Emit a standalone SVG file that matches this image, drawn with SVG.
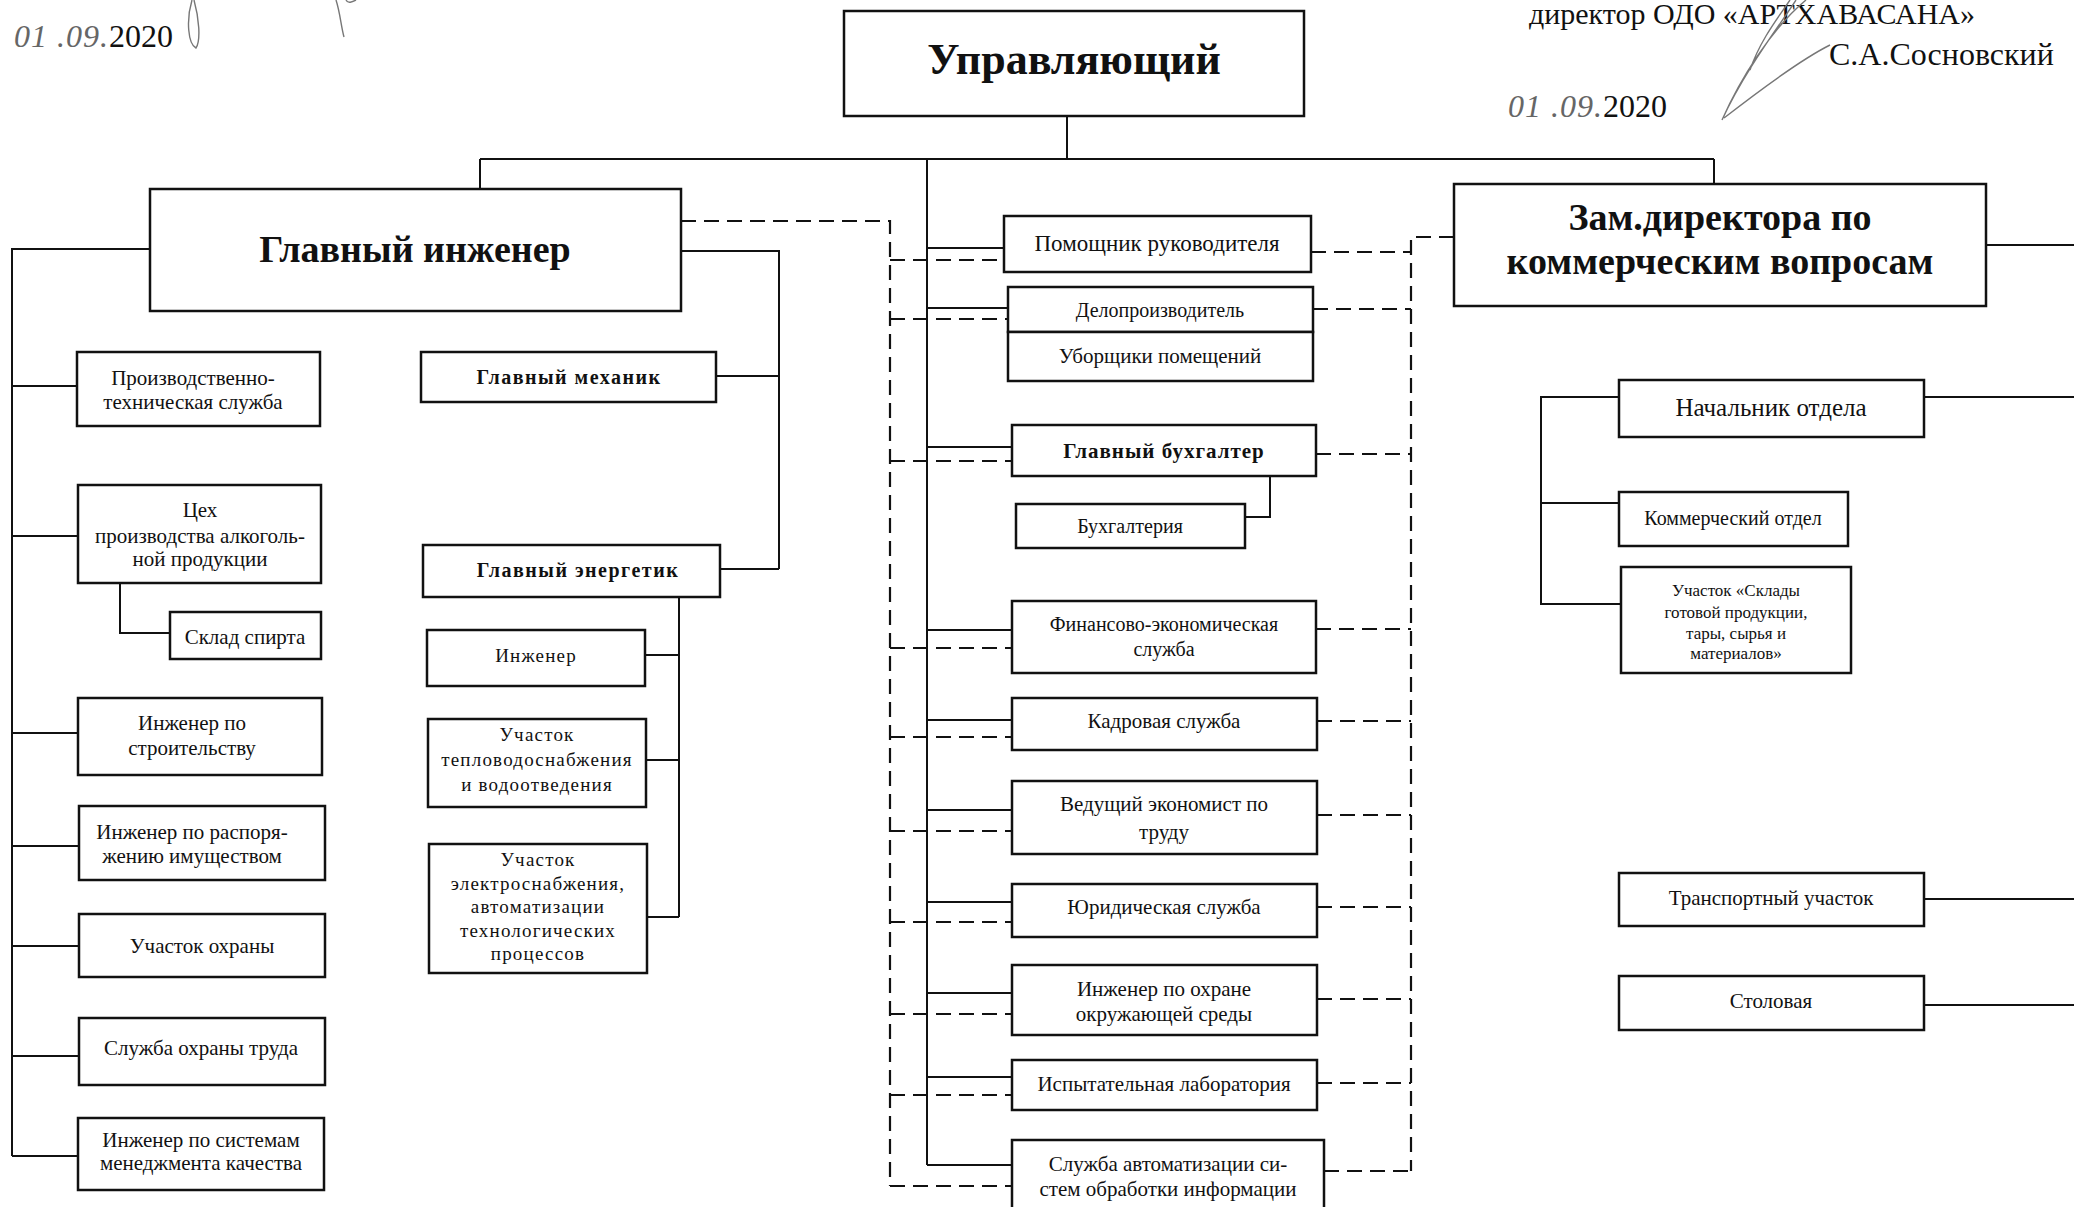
<svg xmlns="http://www.w3.org/2000/svg" width="2074" height="1207" viewBox="0 0 2074 1207">
<style>
.box{fill:#fff;stroke:#111;stroke-width:2.5}
.ln{fill:none;stroke:#111;stroke-width:2}
.dash{fill:none;stroke:#111;stroke-width:2.2;stroke-dasharray:15 8}
.sig{fill:none;stroke:#777;stroke-width:1.4}
text{font-family:"Liberation Serif","Times New Roman",serif;fill:#111;text-anchor:middle}
.b{font-weight:bold}
.f21{font-size:21px}
.f20{font-size:20px}
.sp{font-size:19px;letter-spacing:1.2px}
.hw{font-style:italic;fill:#666;letter-spacing:1px}
</style>
<rect width="2074" height="1207" fill="#fff"/>

<g id="header">
<text x="14" y="47" style="text-anchor:start;font-size:32px"><tspan class="hw">01 .09.</tspan>2020</text>
<path class="sig" d="M192,0 C186,20 188,44 196,48 C201,40 199,18 194,0"/>
<path class="sig" d="M336,0 C340,12 341,26 344,37 M346,0 C348,4 352,2 356,0"/>
<text x="1752" y="24" style="font-size:30px">директор ОДО «АРТХАВАСАНА»</text>
<text x="1829" y="65" style="text-anchor:start;font-size:32px">С.А.Сосновский</text>
<text x="1508" y="117" style="text-anchor:start;font-size:32px"><tspan class="hw">01 .09.</tspan>2020</text>
<path class="sig" d="M1722,120 C1740,80 1770,30 1806,0 M1722,120 C1745,70 1780,25 1796,0 M1724,118 C1760,90 1800,60 1830,45 M1750,70 C1760,40 1780,15 1790,0"/>
</g>

<g id="connectors">
<path class="ln" d="M1067,117V159M480,159H1714M480,159V189M1714,159V184"/>
<path class="ln" d="M927,159V1165M927,248H1004M927,308H1008M927,447H1012M927,630H1012M927,720H1012M927,810H1012M927,902H1012M927,993H1012M927,1077H1012M927,1165H1012"/>
<path class="ln" d="M150,249H12V1156M12,386H77M12,536H78M12,733H78M12,846H79M12,946H79M12,1056H79M12,1156H78"/>
<path class="ln" d="M120,583V633H170"/>
<path class="ln" d="M681,251H779V569M716,376H779M720,569H779"/>
<path class="ln" d="M679,597V917M645,655H679M646,760H679M647,917H679"/>
<path class="ln" d="M1270,476V517H1245"/>
<path class="ln" d="M1986,245H2074M1924,397H2074M1619,397H1541V604H1621M1541,503H1619M1924,899H2074M1924,1005H2074"/>
<path class="dash" d="M681,221H890V1186"/>
<path class="dash" d="M890,260H1004M890,319H1008M890,461H1012M890,648H1012M890,737H1012M890,831H1012M890,922H1012M890,1014H1012M890,1095H1012M890,1186H1012"/>
<path class="dash" d="M1454,237H1411V1171"/>
<path class="dash" d="M1311,252H1411M1313,309H1411M1316,454H1411M1316,629H1411M1317,721H1411M1317,815H1411M1317,907H1411M1317,999H1411M1317,1083H1411M1324,1171H1411"/>
</g>

<g id="n-upr"><rect class="box" x="844" y="11" width="460" height="105"/><text class="b" x="1074" y="74" style="font-size:44px">Управляющий</text></g>
<g id="n-gi"><rect class="box" x="150" y="189" width="531" height="122"/><text class="b" x="415" y="262" style="font-size:38px">Главный инженер</text></g>
<g id="n-zam"><rect class="box" x="1454" y="184" width="532" height="122"/><text class="b" x="1720" y="230" style="font-size:38px">Зам.директора по</text><text class="b" x="1720" y="274" style="font-size:38px">коммерческим вопросам</text></g>

<g id="n-pts"><rect class="box" x="77" y="352" width="243" height="74"/><text class="f21" x="193" y="385">Производственно-</text><text class="f21" x="193" y="409">техническая служба</text></g>
<g id="n-cex"><rect class="box" x="78" y="485" width="243" height="98"/><text class="f21" x="200" y="517">Цех</text><text class="f21" x="200" y="543">производства алкоголь-</text><text class="f21" x="200" y="566">ной продукции</text></g>
<g id="n-sklad"><rect class="box" x="170" y="612" width="151" height="47"/><text class="f21" x="245" y="644">Склад спирта</text></g>
<g id="n-isp"><rect class="box" x="78" y="698" width="244" height="77"/><text class="f21" x="192" y="730">Инженер по</text><text class="f21" x="192" y="755">строительству</text></g>
<g id="n-irp"><rect class="box" x="79" y="806" width="246" height="74"/><text class="f21" x="192" y="839">Инженер по распоря-</text><text class="f21" x="192" y="863">жению имуществом</text></g>
<g id="n-uo"><rect class="box" x="79" y="914" width="246" height="63"/><text class="f21" x="202" y="953">Участок охраны</text></g>
<g id="n-sot"><rect class="box" x="79" y="1018" width="246" height="67"/><text class="f21" x="201" y="1055">Служба охраны труда</text></g>
<g id="n-ism"><rect class="box" x="78" y="1118" width="246" height="72"/><text class="f21" x="201" y="1147">Инженер по системам</text><text class="f21" x="201" y="1170">менеджмента качества</text></g>

<g id="n-gm"><rect class="box" x="421" y="352" width="295" height="50"/><text class="b" x="569" y="384" style="font-size:20px;letter-spacing:1.5px">Главный механик</text></g>
<g id="n-ge"><rect class="box" x="423" y="545" width="297" height="52"/><text class="b" x="578" y="577" style="font-size:20px;letter-spacing:1.5px">Главный энергетик</text></g>
<g id="n-ing"><rect class="box" x="427" y="630" width="218" height="56"/><text class="sp" x="536" y="662">Инженер</text></g>
<g id="n-utv"><rect class="box" x="428" y="719" width="218" height="88"/><text class="sp" x="537" y="741">Участок</text><text class="sp" x="537" y="766">тепловодоснабжения</text><text class="sp" x="537" y="791">и водоотведения</text></g>
<g id="n-ues"><rect class="box" x="429" y="844" width="218" height="129"/><text class="sp" x="538" y="866">Участок</text><text class="sp" x="538" y="890">электроснабжения,</text><text class="sp" x="538" y="913">автоматизации</text><text class="sp" x="538" y="937">технологических</text><text class="sp" x="538" y="960">процессов</text></g>

<g id="n-pom"><rect class="box" x="1004" y="216" width="307" height="56"/><text x="1157" y="251" style="font-size:23px">Помощник руководителя</text></g>
<g id="n-del"><rect class="box" x="1008" y="287" width="305" height="45"/><text class="f20" x="1160" y="317">Делопроизводитель</text></g>
<g id="n-ubo"><rect class="box" x="1008" y="332" width="305" height="49"/><text class="f21" x="1160" y="363">Уборщики помещений</text></g>
<g id="n-gb"><rect class="box" x="1012" y="425" width="304" height="51"/><text class="b" x="1164" y="458" style="font-size:21px;letter-spacing:1px">Главный бухгалтер</text></g>
<g id="n-buh"><rect class="box" x="1016" y="504" width="229" height="44"/><text class="f20" x="1130" y="533">Бухгалтерия</text></g>
<g id="n-fin"><rect class="box" x="1012" y="601" width="304" height="72"/><text class="f20" x="1164" y="631">Финансово-экономическая</text><text class="f20" x="1164" y="656">служба</text></g>
<g id="n-kad"><rect class="box" x="1012" y="698" width="305" height="52"/><text class="f21" x="1164" y="728">Кадровая служба</text></g>
<g id="n-ved"><rect class="box" x="1012" y="781" width="305" height="73"/><text class="f21" x="1164" y="811">Ведущий экономист по</text><text class="f21" x="1164" y="839">труду</text></g>
<g id="n-yur"><rect class="box" x="1012" y="884" width="305" height="53"/><text class="f21" x="1164" y="914">Юридическая служба</text></g>
<g id="n-ioh"><rect class="box" x="1012" y="965" width="305" height="70"/><text class="f21" x="1164" y="996">Инженер по охране</text><text class="f21" x="1164" y="1021">окружающей среды</text></g>
<g id="n-il"><rect class="box" x="1012" y="1060" width="305" height="50"/><text class="f21" x="1164" y="1091">Испытательная лаборатория</text></g>
<g id="n-sa"><rect class="box" x="1012" y="1140" width="312" height="80"/><text class="f21" x="1168" y="1171">Служба автоматизации си-</text><text class="f21" x="1168" y="1196">стем обработки информации</text></g>

<g id="n-no"><rect class="box" x="1619" y="380" width="305" height="57"/><text x="1771" y="416" style="font-size:25px">Начальник отдела</text></g>
<g id="n-ko"><rect class="box" x="1619" y="492" width="229" height="54"/><text class="f20" x="1733" y="525">Коммерческий отдел</text></g>
<g id="n-usk"><rect class="box" x="1621" y="567" width="230" height="106"/><text x="1736" y="596" style="font-size:17px">Участок «Склады</text><text x="1736" y="618" style="font-size:17px">готовой продукции,</text><text x="1736" y="639" style="font-size:17px">тары, сырья и</text><text x="1736" y="659" style="font-size:17px">материалов»</text></g>
<g id="n-tu"><rect class="box" x="1619" y="873" width="305" height="53"/><text class="f21" x="1771" y="905">Транспортный участок</text></g>
<g id="n-st"><rect class="box" x="1619" y="976" width="305" height="54"/><text class="f21" x="1771" y="1008">Столовая</text></g>
</svg>
